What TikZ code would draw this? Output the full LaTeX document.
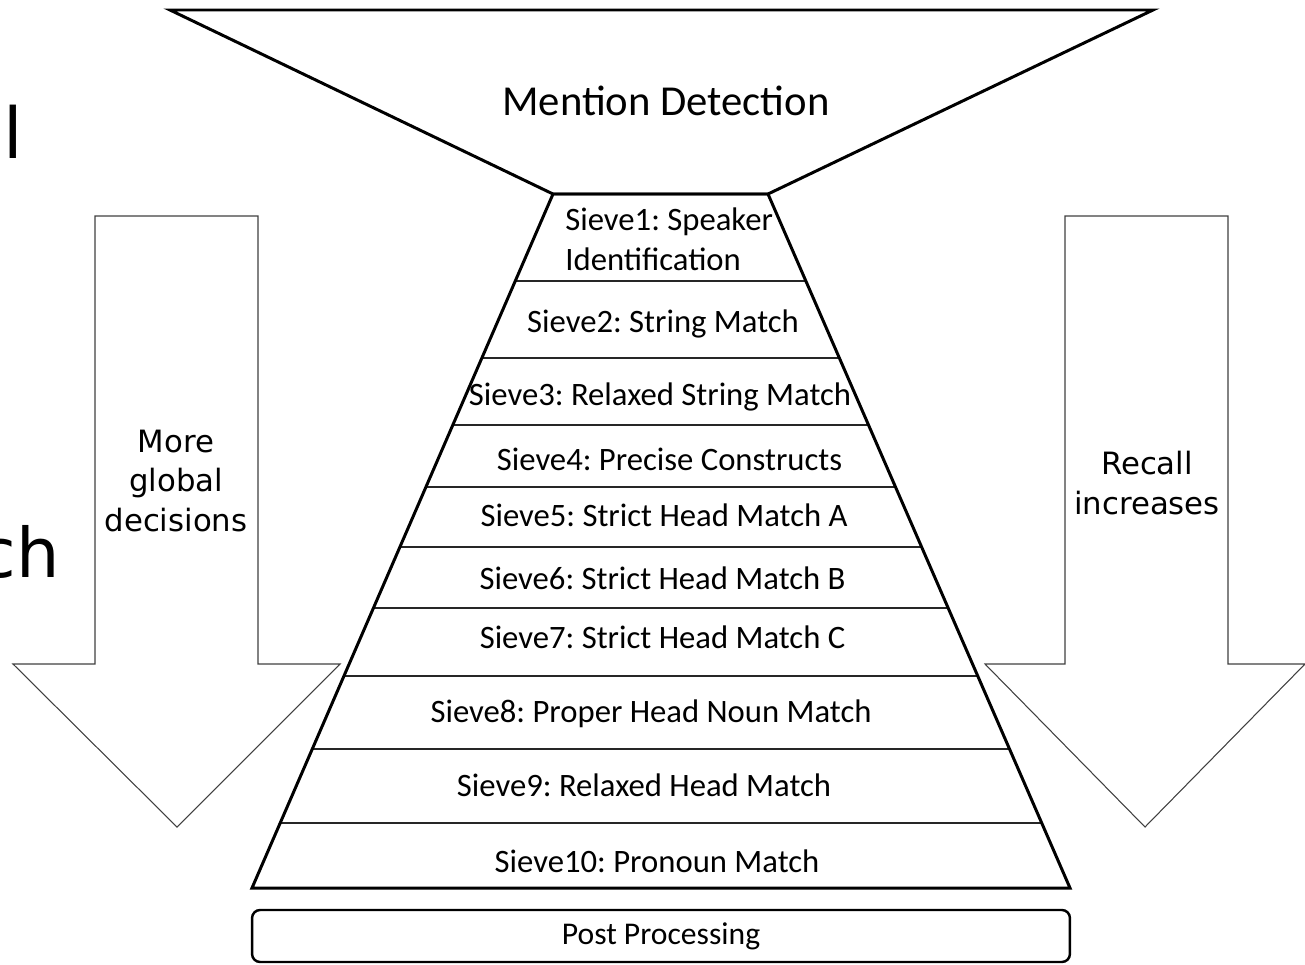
\documentclass[tikz,border=0pt]{standalone}
\usepackage{fontspec}
\setmainfont{Carlito}
\newfontfamily\dvsans{DejaVu Sans}
\frenchspacing
\tikzset{
  edge/.style={line width=1.7pt, line join=miter, black},
  rowline/.style={line width=0.8pt, black!85},
  bigarrow/.style={line width=0.6pt, black!75, fill=white},
  sievetxt/.style={inner sep=0pt, anchor=base, font=\fontsize{18.6pt}{22.7pt}\selectfont},
  arrtxt/.style={inner sep=0pt, align=center, font=\dvsans\fontsize{17.5pt}{22.6pt}\selectfont},
}
\begin{document}
\begin{tikzpicture}[x=0.02cm, y=-0.02cm]
\useasboundingbox (0,0) rectangle (1305,964);
% partial slide text at the left edge
\node[anchor=base west, inner sep=0pt, font=\dvsans\fontsize{40pt}{40pt}\selectfont] (ltxt) at (3,158) {l};
\node[anchor=base east, inner sep=0pt, font=\dvsans\fontsize{39pt}{39pt}\selectfont] (chtxt) at (60,577) {ch};
% big arrows
\draw[bigarrow] (95,216) -- (258,216) -- (258,664) -- (340,664) -- (177,827) -- (13,664) -- (95,664) -- cycle;
\draw[bigarrow] (1065,216) -- (1228,216) -- (1228,664) -- (1305,664) -- (1145,827) -- (985,664) -- (1065,664) -- cycle;
\node[arrtxt] (left) at (176,481) {More\\global\\decisions};
\node[arrtxt] (right) at (1147,483) {Recall\\increases};
% funnel
\draw[edge] (170,10) -- (1153,10) -- (768,194) -- (553,194) -- cycle;
\node[inner sep=0pt, font=\fontsize{24.3pt}{26pt}\selectfont] (mention) at (666,101) {Mention Detection};
% pyramid
\draw[rowline] (515.3,281) -- (805.9,281);
\draw[rowline] (481.9,358) -- (839.4,358);
\draw[rowline] (452.8,425) -- (868.5,425);
\draw[rowline] (425.9,487) -- (895.5,487);
\draw[rowline] (399.9,547) -- (921.6,547);
\draw[rowline] (373.4,608) -- (948.2,608);
\draw[rowline] (344.0,676) -- (977.8,676);
\draw[rowline] (312.3,749) -- (1009.5,749);
\draw[rowline] (280.2,823) -- (1041.7,823);
\draw[edge] (553,194) -- (768,194) -- (1070,888) -- (252,888) -- cycle;
\node[sievetxt, anchor=base west, align=left] (s1) at (565,270) {Sieve1: Speaker\\Identification};
\node[sievetxt] (s2) at (663,332) {Sieve2: String Match};
\node[sievetxt] (s3) at (660,405) {Sieve3: Relaxed String Match};
\node[sievetxt] (s4) at (669.5,470) {Sieve4: Precise Constructs};
\node[sievetxt] (s5) at (664,526) {Sieve5: Strict Head Match A};
\node[sievetxt] (s6) at (662.5,589) {Sieve6: Strict Head Match B};
\node[sievetxt] (s7) at (662.5,648) {Sieve7: Strict Head Match C};
\node[sievetxt] (s8) at (651,722) {Sieve8: Proper Head Noun Match};
\node[sievetxt] (s9) at (644,796) {Sieve9: Relaxed Head Match};
\node[sievetxt] (s10) at (657,872) {Sieve10: Pronoun Match};
% post processing
\node[draw, line width=1.4pt, rounded corners=0.16cm, minimum width=16.36cm, minimum height=1.04cm, inner sep=0pt, font=\fontsize{18pt}{20pt}\selectfont] (post) at (661,936) {Post Processing};
\end{tikzpicture}
\end{document}
